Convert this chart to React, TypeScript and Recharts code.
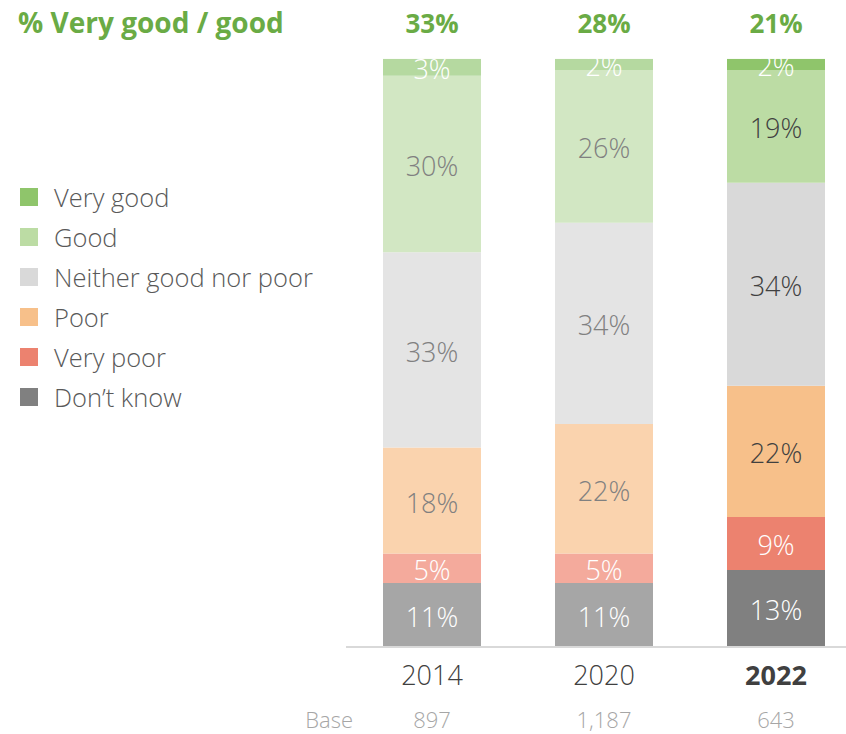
import React from 'react';
import { BarChart, Bar, XAxis, YAxis, Cell, LabelList } from 'recharts';

const years = ['2014', '2020', '2022'];
const bases = ['897', '1,187', '643'];
const netGood = [33, 28, 21];

const veryGood = [2.9, 1.9, 1.9];
const good = [30.0, 26.0, 19.2];
const neither = [33.2, 34.2, 34.5];
const poor = [18.0, 22.0, 22.3];
const veryPoor = [5.0, 5.0, 9.0];
const dontKnow = [10.9, 10.9, 13.1];

const labelVeryGood = [3, 2, 2];
const labelGood = [30, 26, 19];
const labelNeither = [33, 34, 34];
const labelPoor = [18, 22, 22];
const labelVeryPoor = [5, 5, 9];
const labelDontKnow = [11, 11, 13];

const data = years.map((y, i) => ({
  year: y,
  base: bases[i],
  net: netGood[i],
  dk: dontKnow[i],
  vp: veryPoor[i],
  p: poor[i],
  n: neither[i],
  g: good[i],
  vg: veryGood[i],
}));

const FONT = "'Segoe UI', 'Open Sans', 'Noto Sans', sans-serif";

type SeriesDef = {
  key: string;
  name: string;
  full: string;
  faded: string;
  labels: number[];
  textFaded: string;
  textFull: string;
};

const series: SeriesDef[] = [
  { key: 'dk', name: 'Don\u2019t know', full: '#808080', faded: '#a6a6a6', labels: labelDontKnow, textFaded: '#ffffff', textFull: '#ffffff' },
  { key: 'vp', name: 'Very poor', full: '#ec826f', faded: '#f4aa9c', labels: labelVeryPoor, textFaded: '#ffffff', textFull: '#ffffff' },
  { key: 'p', name: 'Poor', full: '#f7c08a', faded: '#fad3ae', labels: labelPoor, textFaded: '#808080', textFull: '#404040' },
  { key: 'n', name: 'Neither good nor poor', full: '#d9d9d9', faded: '#e4e4e4', labels: labelNeither, textFaded: '#808080', textFull: '#404040' },
  { key: 'g', name: 'Good', full: '#bcdca4', faded: '#d2e7c3', labels: labelGood, textFaded: '#808080', textFull: '#404040' },
  { key: 'vg', name: 'Very good', full: '#8fc56b', faded: '#b5d9a0', labels: labelVeryGood, textFaded: '#ffffff', textFull: '#ffffff' },
];

const legendOrder = [...series].reverse();

const YearTick = (props: any) => {
  const { x, y, payload, index } = props;
  const i = index ?? years.indexOf(payload.value);
  const bold = i === years.length - 1;
  return (
    <g>
      <text x={x} y={y + 38} textAnchor="middle" fontFamily={FONT} fontSize={27} fontWeight={bold ? 700 : 300} fill="#404040">
        {payload.value}
      </text>
      <text x={x} y={y + 81} textAnchor="middle" fontFamily={FONT} fontSize={22} fontWeight={300} fill="#a6a6a6">
        {bases[i]}
      </text>
      {i === 0 && (
        <text x={x - 79} y={y + 81} textAnchor="end" fontFamily={FONT} fontSize={22} fontWeight={300} fill="#a6a6a6">
          Base
        </text>
      )}
    </g>
  );
};

const makeSegLabel = (s: SeriesDef) => (props: any) => {
  const { x, y, width, height, index } = props;
  const last = index === years.length - 1;
  return (
    <text
      x={Number(x) + Number(width) / 2}
      y={Number(y) + Number(height) / 2 + 12}
      textAnchor="middle"
      fontFamily={FONT}
      fontSize={27}
      fontWeight={300}
      fill={last ? s.textFull : s.textFaded}
    >
      {s.labels[index] + '%'}
    </text>
  );
};

const TopLabel = (props: any) => {
  const { x, y, width, index } = props;
  return (
    <text
      x={Number(x) + Number(width) / 2}
      y={Number(y) - 26}
      textAnchor="middle"
      fontFamily={FONT}
      fontSize={26}
      fontWeight={700}
      fill="#6aab45"
    >
      {netGood[index] + '%'}
    </text>
  );
};

export default function App() {
  return (
    <div style={{ position: 'absolute', left: 0, top: 0, width: 846, height: 734, overflow: 'hidden', background: '#fff' }}>
      <div
        style={{
          position: 'absolute',
          left: 18,
          top: 3,
          fontFamily: FONT,
          fontSize: 28,
          fontWeight: 700,
          color: '#6aab45',
          whiteSpace: 'nowrap',
          zIndex: 2,
        }}
      >
        % Very good / good
      </div>
      <div style={{ position: 'absolute', left: 20, top: 177, fontFamily: FONT, zIndex: 2 }}>
        {legendOrder.map((s) => (
          <div key={s.key} style={{ display: 'flex', alignItems: 'center', height: 40 }}>
            <div style={{ width: 18, height: 18, background: s.full, marginRight: 16 }} />
            <span style={{ fontSize: 25.5, fontWeight: 300, color: '#595959', whiteSpace: 'nowrap' }}>{s.name}</span>
          </div>
        ))}
      </div>
      <BarChart
        width={862}
        height={734}
        data={data}
        margin={{ top: 58.7, right: 0, left: 346, bottom: 7 }}
        barSize={98}
      >
        <YAxis hide domain={[0, 100]} type="number" allowDataOverflow />
        <XAxis
          dataKey="year"
          height={80}
          axisLine={{ stroke: '#d9d9d9', strokeWidth: 2 }}
          tickLine={false}
          tickSize={0}
          tickMargin={0}
          interval={0}
          tick={<YearTick />}
        />
        {series.map((s) => (
          <Bar key={s.key} dataKey={s.key} name={s.name} stackId="a" isAnimationActive={false} fill={s.full}>
            {data.map((d, i) => (
              <Cell key={i} fill={i === years.length - 1 ? s.full : s.faded} />
            ))}
            <LabelList dataKey={s.key} content={makeSegLabel(s)} />
            {s.key === 'vg' && <LabelList dataKey="net" content={<TopLabel />} />}
          </Bar>
        ))}
      </BarChart>
    </div>
  );
}
